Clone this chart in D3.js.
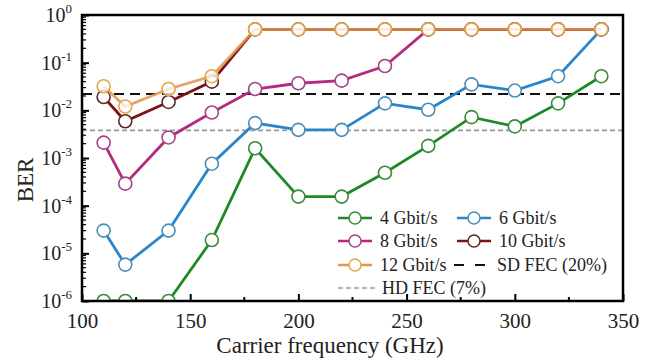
<!DOCTYPE html>
<html>
<head>
<meta charset="utf-8">
<script src="https://cdn.jsdelivr.net/npm/d3@7"></script>
<style>
  html, body { margin: 0; padding: 0; background: #fff; }
  svg { display: block; }
  svg text { font-family: "Liberation Serif", Tinos, "Times New Roman", Times, "DejaVu Serif", "Noto Serif", serif; fill: #222; }
</style>
</head>
<body>
<svg id="chart" width="653" height="359"></svg>
<script>
// Carrier frequencies (GHz)
const freqs = [110, 120, 140, 160, 180, 200, 220, 240, 260, 280, 300, 320, 340];

// BER per data rate
const ber4  = [1e-6, 1e-6, 1e-6, 1.9e-5, 1.6e-3, 1.55e-4, 1.55e-4, 4.9e-4, 1.8e-3, 7.2e-3, 4.6e-3, 1.4e-2, 5.2e-2];
const ber6  = [3e-5, 5.8e-6, 3e-5, 7.6e-4, 5.4e-3, 3.9e-3, 3.9e-3, 1.4e-2, 1.03e-2, 3.5e-2, 2.6e-2, 5.2e-2, 0.5];
const ber8  = [2.1e-3, 2.9e-4, 2.7e-3, 9e-3, 2.8e-2, 3.7e-2, 4.2e-2, 8.5e-2, 0.5, 0.5, 0.5, 0.5, 0.5];
const ber10 = [1.9e-2, 5.9e-3, 1.5e-2, 4e-2, 0.5, 0.5, 0.5, 0.5, 0.5, 0.5, 0.5, 0.5, 0.5];
const ber12 = [3.2e-2, 1.2e-2, 2.8e-2, 5.2e-2, 0.5, 0.5, 0.5, 0.5, 0.5, 0.5, 0.5, 0.5, 0.5];

const seriesNames = ["4 Gbit/s", "6 Gbit/s", "8 Gbit/s", "10 Gbit/s", "12 Gbit/s"];
const seriesValues = [ber4, ber6, ber8, ber10, ber12];
const lineColors = ["#1f8a25", "#2b86c9", "#b42a7c", "#7c1414", "#e3944e"];
const markerColors = ["#3b8a3b", "#4a8db8", "#a2448a", "#5c2a22", "#e2a64c"];

// FEC thresholds
const sdFec = 2.2e-2;
const hdFec = 3.8e-3;

const xTicks = [100, 150, 200, 250, 300, 350];
const xMinorTicks = [125, 175, 225, 275, 325];
const yTickExps = [0, -1, -2, -3, -4, -5, -6];

const FONT = '"Liberation Serif", Tinos, "Times New Roman", Times, "DejaVu Serif", "Noto Serif", serif';

const svg = d3.select("#chart");
const margin = { left: 82, right: 30, top: 15, bottom: 58 };
const W = 653, H = 359;
const x = d3.scaleLinear().domain([100, 350]).range([margin.left, W - margin.right]);
const y = d3.scaleLog().domain([1e-6, 1]).range([H - margin.bottom, margin.top]);

svg.append("defs").append("clipPath").attr("id", "plotClip")
  .append("rect")
  .attr("x", x(100)).attr("y", y(1))
  .attr("width", x(350) - x(100)).attr("height", y(1e-6) - y(1));

const plot = svg.append("g").attr("clip-path", "url(#plotClip)");

// Threshold lines
plot.append("line")
  .attr("x1", x(100)).attr("x2", x(350))
  .attr("y1", y(hdFec)).attr("y2", y(hdFec))
  .attr("stroke", "#9a9a9a").attr("stroke-width", 1.6)
  .attr("stroke-dasharray", "5,3");
plot.append("line")
  .attr("x1", x(100)).attr("x2", x(350))
  .attr("y1", y(sdFec)).attr("y2", y(sdFec))
  .attr("stroke", "#111").attr("stroke-width", 1.8)
  .attr("stroke-dasharray", "10,6");

// Series lines and markers
const line = d3.line().x((d, i) => x(freqs[i])).y(d => y(d));
seriesValues.forEach((vals, s) => {
  const g = plot.append("g");
  g.append("path")
    .datum(vals)
    .attr("d", line)
    .attr("fill", "none")
    .attr("stroke", lineColors[s])
    .attr("stroke-width", 2.8)
    .attr("stroke-opacity", s === 4 ? 0.85 : 1);
  g.selectAll("circle")
    .data(vals)
    .join("circle")
    .attr("cx", (d, i) => x(freqs[i]))
    .attr("cy", d => y(d))
    .attr("r", 6.5)
    .attr("fill", "#fff")
    .attr("fill-opacity", s === 4 ? 0.75 : 1)
    .attr("stroke", markerColors[s])
    .attr("stroke-width", 1.6);
});

// Frame
svg.append("rect")
  .attr("x", x(100)).attr("y", y(1))
  .attr("width", x(350) - x(100)).attr("height", y(1e-6) - y(1))
  .attr("fill", "none").attr("stroke", "#000").attr("stroke-width", 2.5);

// X axis ticks (inward)
const xAxis = d3.axisBottom(x).tickValues(xTicks).tickSize(-7).tickFormat(d => d).tickPadding(12);
const gx = svg.append("g").attr("transform", `translate(0,${y(1e-6)})`).call(xAxis)
  .attr("font-family", FONT).attr("font-size", 21);
gx.select(".domain").remove();
gx.selectAll(".tick line").attr("stroke", "#000").attr("stroke-width", 2);
gx.selectAll(".tick text").attr("fill", "#222");
svg.append("g").selectAll("line").data(xMinorTicks).join("line")
  .attr("x1", d => x(d)).attr("x2", d => x(d))
  .attr("y1", y(1e-6)).attr("y2", y(1e-6) - 4)
  .attr("stroke", "#000").attr("stroke-width", 2);

// Y axis ticks (inward), with minor log ticks
const yMajor = yTickExps.map(e => Math.pow(10, e));
const yAxis = d3.axisLeft(y).tickValues(yMajor).tickSize(-7).tickFormat("");
const gy = svg.append("g").attr("transform", `translate(${x(100)},0)`).call(yAxis);
gy.select(".domain").remove();
gy.selectAll(".tick line").attr("stroke", "#000").attr("stroke-width", 2);

const yMinor = [];
for (let e = -6; e < 0; e++) for (let m = 2; m <= 9; m++) yMinor.push(m * Math.pow(10, e));
svg.append("g").selectAll("line").data(yMinor).join("line")
  .attr("x1", x(100)).attr("x2", x(100) + 4)
  .attr("y1", d => y(d)).attr("y2", d => y(d))
  .attr("stroke", "#000").attr("stroke-width", 1.2);

// Y tick labels as 10 with superscript exponent
const yl = svg.append("g").attr("font-family", FONT);
yTickExps.forEach(e => {
  const t = yl.append("text")
    .attr("x", x(100) - 10)
    .attr("y", y(Math.pow(10, e)) + 7)
    .attr("text-anchor", "end")
    .attr("font-size", 20);
  t.append("tspan").text("10");
  t.append("tspan").text(e === 0 ? "0" : "-" + Math.abs(e))
    .attr("font-size", 13).attr("dy", -9);
});

// Axis titles
svg.append("text")
  .attr("x", 330).attr("y", H - 6)
  .attr("text-anchor", "middle").attr("font-size", 23).attr("font-family", FONT)
  .text("Carrier frequency (GHz)");
svg.append("text")
  .attr("transform", "translate(33,180) rotate(-90)")
  .attr("text-anchor", "middle").attr("font-size", 23).attr("font-family", FONT)
  .text("BER");

// Legend
const legend = svg.append("g").attr("font-family", FONT);
const legItems = [
  { s: 0, lx: 338, ly: 218 },
  { s: 1, lx: 457, ly: 218 },
  { s: 2, lx: 338, ly: 241 },
  { s: 3, lx: 457, ly: 241 },
  { s: 4, lx: 338, ly: 265 }
];
legItems.forEach(it => {
  legend.append("line")
    .attr("x1", it.lx).attr("x2", it.lx + 34)
    .attr("y1", it.ly).attr("y2", it.ly)
    .attr("stroke", lineColors[it.s]).attr("stroke-width", 2.6);
  legend.append("circle")
    .attr("cx", it.lx + 17).attr("cy", it.ly).attr("r", 6)
    .attr("fill", "#fff").attr("stroke", markerColors[it.s]).attr("stroke-width", 1.5);
  legend.append("text")
    .attr("x", it.lx + 42).attr("y", it.ly + 6)
    .attr("font-size", 18).text(seriesNames[it.s]);
});
legend.append("line")
  .attr("x1", 454).attr("x2", 486).attr("y1", 265).attr("y2", 265)
  .attr("stroke", "#111").attr("stroke-width", 1.8).attr("stroke-dasharray", "10,11");
legend.append("text").attr("x", 497).attr("y", 271).attr("font-size", 18).text("SD FEC (20%)");
legend.append("line")
  .attr("x1", 338).attr("x2", 376).attr("y1", 288).attr("y2", 288)
  .attr("stroke", "#9a9a9a").attr("stroke-width", 1.6).attr("stroke-dasharray", "5,3");
legend.append("text").attr("x", 382).attr("y", 294).attr("font-size", 18).text("HD FEC (7%)");
</script>
</body>
</html>
